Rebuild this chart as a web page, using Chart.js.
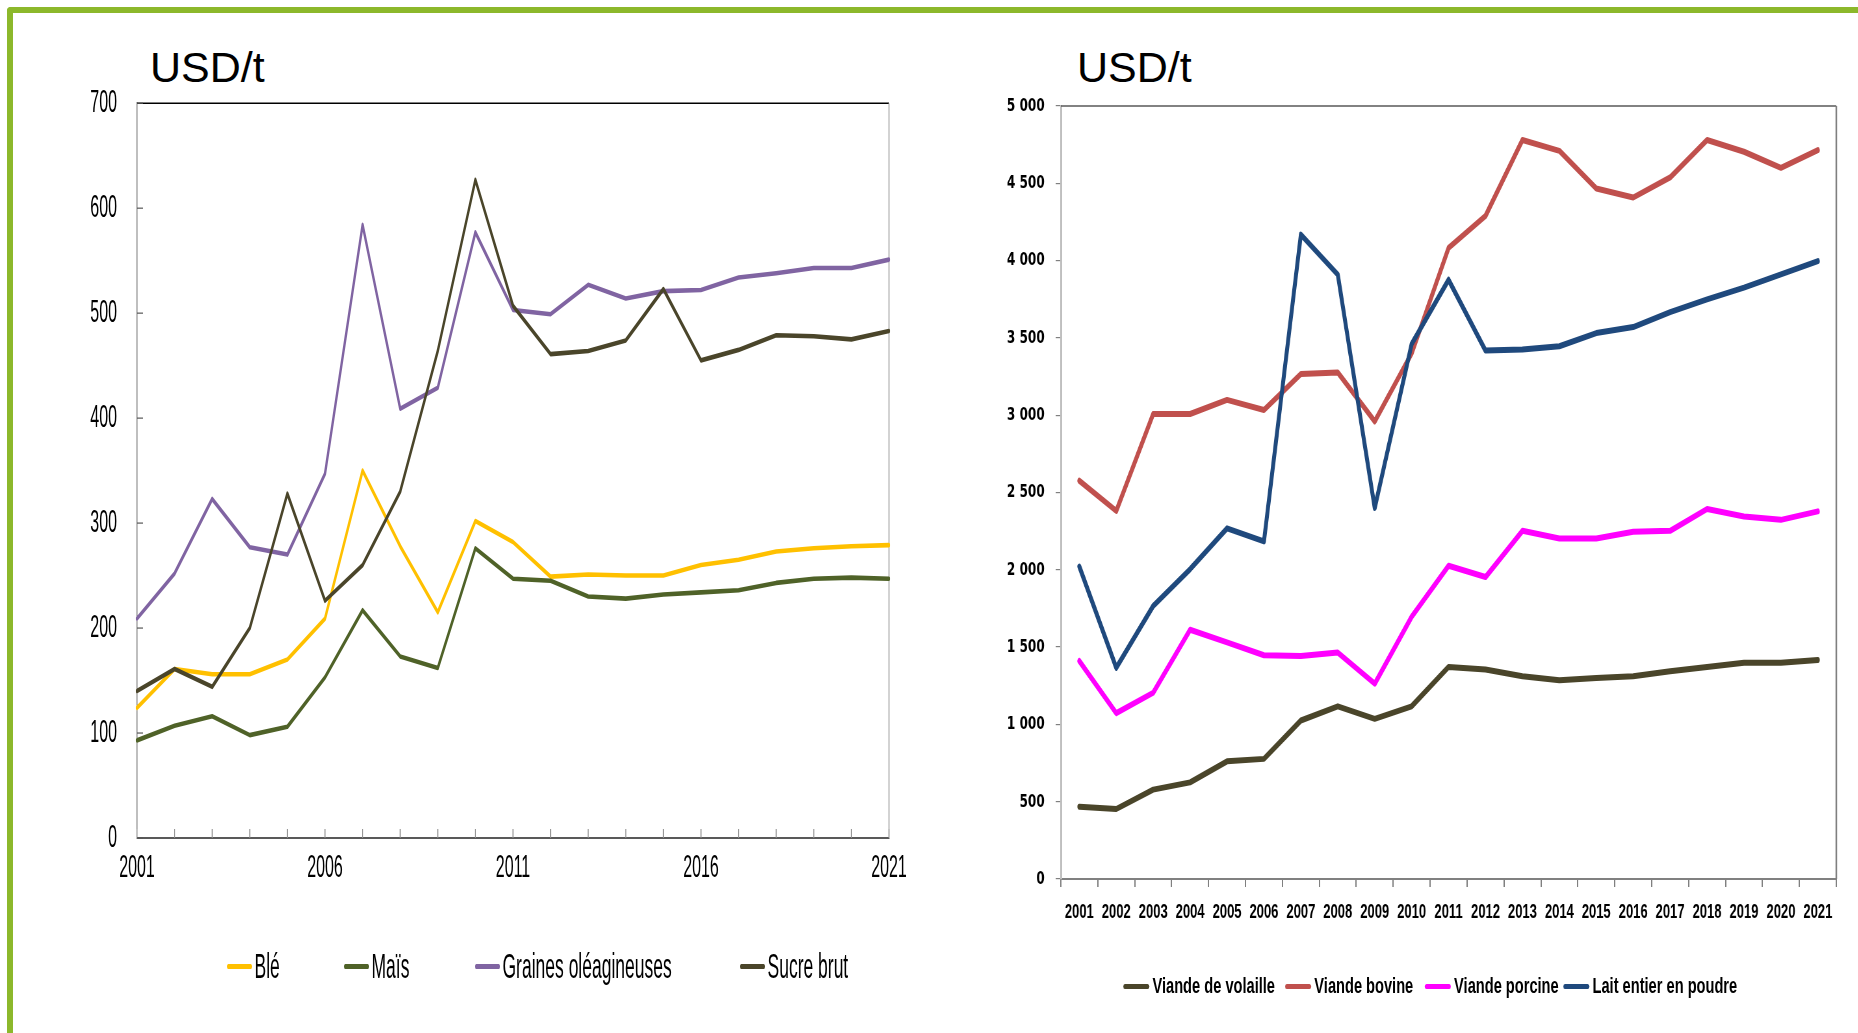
<!DOCTYPE html>
<html>
<head>
<meta charset="utf-8">
<script src="https://cdn.jsdelivr.net/npm/chart.js@4.4.1/dist/chart.umd.min.js"></script>
<style>
  body { margin: 0; width: 1858px; height: 1033px; background: #fff; position: relative; overflow: hidden;
         font-family: "Liberation Sans", Arial, sans-serif; }
  #frame { position: absolute; left: 7px; top: 7px; width: 1900px; height: 1100px;
           border-top: 6px solid #8cb82b; border-left: 6px solid #8cb82b; border-top-left-radius: 4px; }
  .unit { position: absolute; top: 46px; font-size: 43px; line-height: 43px; color: #000; }
  .squish { position: absolute; transform-origin: 0 0; }
  .legend { position: absolute; left: 0; width: 100%; color: #000; }
  .legend .it { position: absolute; top: 0; height: 100%; display: flex; align-items: center; white-space: nowrap; }
  .legend .ln { display: inline-block; border-radius: 3px; }
</style>
</head>
<body>
<div id="frame"></div>
<div class="unit" style="left:150px">USD/t</div>
<div class="unit" style="left:1077px">USD/t</div>

<div class="squish" style="left:20px;top:52px;width:1800px;height:960px;transform:scaleX(0.5)">
  <canvas id="leftChart" width="1800" height="846"></canvas>
  <div class="legend" id="leftLegend" style="top:889px;height:50px;font-size:35px"></div>
</div>

<div class="squish" style="left:990px;top:60px;width:1320px;height:970px;transform:scaleX(0.65)">
  <canvas id="rightChart" width="1320" height="890"></canvas>
  <div class="legend" id="rightLegend" style="top:906px;height:40px;font-size:22.5px;font-weight:bold"></div>
</div>

<script>
// ── DATA ──────────────────────────────────────────────────────────────────
const years = ['2001','2002','2003','2004','2005','2006','2007','2008','2009','2010','2011',
               '2012','2013','2014','2015','2016','2017','2018','2019','2020','2021'];
const leftYearLabels = ['2001','2006','2011','2016','2021'];

// Céréales / oléagineux / sucre (USD/t)
const ble     = [124, 161, 156, 156, 170, 209, 350, 278, 215, 302, 282, 249, 251, 250, 250, 260, 265, 273, 276, 278, 279];
const mais    = [93, 107, 116, 98, 106, 153, 217, 173, 162, 276, 247, 245, 230, 228, 232, 234, 236, 243, 247, 248, 247];
const graines = [209, 252, 323, 277, 270, 347, 584, 409, 429, 577, 503, 499, 527, 514, 521, 522, 534, 538, 543, 543, 551];
const sucre   = [140, 161, 144, 200, 328, 226, 260, 330, 464, 627, 507, 461, 464, 474, 523, 455, 465, 479, 478, 475, 483];

// Viandes / lait (USD/t)
const volaille = [468, 453, 578, 625, 761, 777, 1025, 1117, 1036, 1117, 1372, 1355, 1311, 1285, 1300, 1311, 1344, 1372, 1399, 1399, 1417];
const bovine   = [2576, 2381, 3008, 3008, 3099, 3034, 3267, 3276, 2960, 3400, 4082, 4289, 4780, 4710, 4466, 4408, 4538, 4780, 4704, 4600, 4715];
const porcine  = [1410, 1073, 1205, 1612, 1531, 1447, 1443, 1465, 1263, 1696, 2026, 1953, 2252, 2202, 2202, 2246, 2252, 2393, 2345, 2323, 2378];
const lait     = [2021, 1366, 1766, 2004, 2268, 2184, 4168, 3909, 2400, 3461, 3876, 3418, 3425, 3446, 3531, 3570, 3667, 3749, 3825, 3911, 3997];

// ── HELPERS ───────────────────────────────────────────────────────────────
Chart.defaults.font.family = '"Liberation Sans", Arial, sans-serif';
Chart.defaults.color = '#000';

function line(label, data, color, order, width) {
  return { label, data, borderColor: color, backgroundColor: color, borderWidth: width,
           pointRadius: 0, pointHoverRadius: 0, tension: 0, order,
           borderJoinStyle: 'round', borderCapStyle: 'round' };
}
function fmtThousands(v) {
  return String(v).replace(/\B(?=(\d{3})+(?!\d))/g, '\u00a0');
}
// légende HTML (dans le bloc compressé, comme le graphique)
function buildLegend(el, datasets, xs, lnW, lnGap) {
  el.innerHTML = datasets.map((d, i) =>
    `<span class="it" style="left:${xs[i]}px"><span class="ln" style="width:${lnW}px;height:5px;background:${d.borderColor};margin-right:${lnGap}px"></span>${d.label}</span>`
  ).join('');
}

// bordure haut/droite + petites graduations intérieures (graphique gauche)
const leftFrame = {
  id: 'leftFrame',
  beforeDatasetsDraw(chart) {
    const { ctx, chartArea: a, scales: { x, y } } = chart;
    ctx.save();
    ctx.lineWidth = 1.5; ctx.strokeStyle = '#000';
    ctx.beginPath(); ctx.moveTo(a.left, a.top); ctx.lineTo(a.right, a.top); ctx.stroke();
    ctx.lineWidth = 2; ctx.strokeStyle = '#a6a6a6';
    ctx.beginPath(); ctx.moveTo(a.right, a.top); ctx.lineTo(a.right, a.bottom); ctx.stroke();
    ctx.strokeStyle = '#8c8c8c'; ctx.lineWidth = 2;
    x.ticks.forEach((t, i) => {
      const px = x.getPixelForTick(i);
      ctx.beginPath(); ctx.moveTo(px, a.bottom); ctx.lineTo(px, a.bottom - 9); ctx.stroke();
    });
    ctx.lineWidth = 1.2; ctx.strokeStyle = '#555';
    y.ticks.forEach((t, i) => {
      const py = y.getPixelForTick(i);
      ctx.beginPath(); ctx.moveTo(a.left, py); ctx.lineTo(a.left + 12, py); ctx.stroke();
    });
    ctx.restore();
  }
};

const rightFrame = {
  id: 'rightFrame',
  beforeDatasetsDraw(chart) {
    const { ctx, chartArea: a } = chart;
    ctx.save();
    ctx.lineWidth = 1.6; ctx.strokeStyle = '#595959';
    ctx.beginPath(); ctx.moveTo(a.left, a.top); ctx.lineTo(a.right, a.top); ctx.stroke();
    ctx.lineWidth = 2.5; ctx.strokeStyle = '#7f7f7f';
    ctx.beginPath(); ctx.moveTo(a.right, a.top); ctx.lineTo(a.right, a.bottom); ctx.stroke();
    ctx.restore();
  }
};

// ── LEFT CHART ────────────────────────────────────────────────────────────
const leftSets = [
  line('Blé', ble, '#ffc000', 4, 4.6),
  line('Maïs', mais, '#4f6228', 3, 4.6),
  line('Graines oléagineuses', graines, '#8064a2', 2, 4.6),
  line('Sucre brut', sucre, '#4a452a', 1, 4.6),
];

new Chart(document.getElementById('leftChart'), {
  type: 'line',
  data: { labels: years, datasets: leftSets },
  options: {
    responsive: false, animation: false, devicePixelRatio: 1,
    layout: { padding: { top: 0, right: 62, bottom: 0, left: 0 } },
    plugins: { legend: { display: false }, tooltip: { enabled: false } },
    scales: {
      x: {
        type: 'category', offset: false,
        grid: { display: false },
        border: { display: true, color: '#595959', width: 2 },
        ticks: { autoSkip: false, maxRotation: 0, padding: 3, font: { size: 32 },
                 callback: (v, i) => leftYearLabels.includes(years[i]) ? years[i] : '' },
        afterFit: s => { s.height = 60; }
      },
      y: {
        min: 0, max: 700,
        grid: { display: false },
        border: { display: true, color: '#7f7f7f', width: 2 },
        ticks: { stepSize: 100, padding: 32, font: { size: 32 } },
        afterFit: s => { s.width = 234; }
      }
    }
  },
  plugins: [leftFrame]
});
buildLegend(document.getElementById('leftLegend'), leftSets, [414, 648, 910, 1440], 50, 5);

// ── RIGHT CHART ───────────────────────────────────────────────────────────
const rightSets = [
  line('Viande de volaille', volaille, '#4a452a', 4, 6),
  line('Viande bovine', bovine, '#c0504d', 3, 6),
  line('Viande porcine', porcine, '#ff00ff', 2, 6),
  line('Lait entier en poudre', lait, '#1f497d', 1, 6),
];

new Chart(document.getElementById('rightChart'), {
  type: 'line',
  data: { labels: years, datasets: rightSets },
  options: {
    responsive: false, animation: false, devicePixelRatio: 1,
    layout: { padding: { top: 46, right: 18, bottom: 11, left: 0 } },
    plugins: { legend: { display: false }, tooltip: { enabled: false } },
    scales: {
      x: {
        type: 'category', offset: true,
        grid: { offset: true, drawOnChartArea: false, drawTicks: true, tickLength: 8, color: '#808080', lineWidth: 2 },
        border: { display: true, color: '#808080', width: 2 },
        ticks: { autoSkip: false, maxRotation: 0, padding: 13, font: { size: 20, weight: 'bold' } },
        afterFit: s => { s.height = 60; }
      },
      y: {
        min: 0, max: 5000,
        grid: { drawOnChartArea: false, drawTicks: true, tickLength: 8, color: '#808080', lineWidth: 1.2 },
        border: { display: true, color: '#bfbfbf', width: 3 },
        ticks: { stepSize: 500, padding: 17, callback: v => fmtThousands(v),
                 font: { family: '"DejaVu Sans", sans-serif', size: 18.5, weight: 'bold' } },
        afterFit: s => { s.width = 109; }
      }
    }
  },
  plugins: [rightFrame]
});
buildLegend(document.getElementById('rightLegend'), rightSets, [205, 454, 669, 882], 40, 5);
</script>
</body>
</html>
